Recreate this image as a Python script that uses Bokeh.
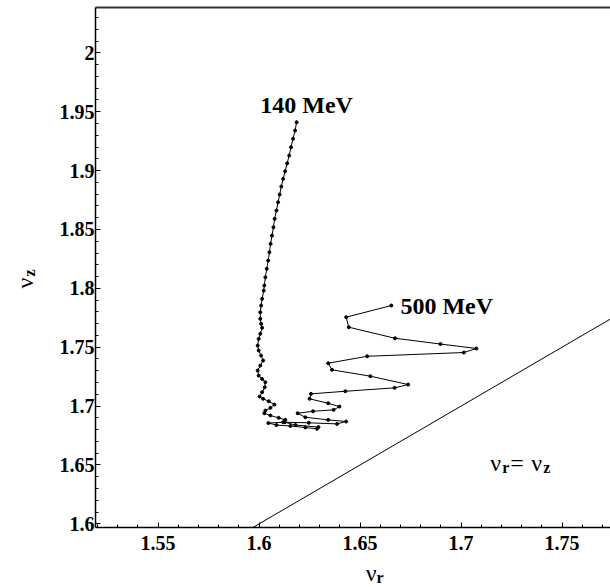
from bokeh.plotting import figure
from bokeh.layouts import row, column
from bokeh.models import (Range1d, LinearAxis, FixedTicker, Label, SingleIntervalTicker,
                          CustomJSTickFormatter)
from bokeh.embed import file_html
from bokeh.resources import INLINE
import math

# 140 MeV working-point trajectory (nu_r, nu_z)
nu_r_140 = [1.6186, 1.6178, 1.6168, 1.6158, 1.6149, 1.6139, 1.6129, 1.6119, 1.6110, 1.6102,
            1.6094, 1.6086, 1.6077, 1.6071, 1.6064, 1.6057, 1.6051, 1.6045, 1.6038, 1.6031,
            1.6026, 1.6023, 1.6015, 1.6010, 1.6006, 1.6006, 1.6010, 1.6015, 1.6006, 1.5998,
            1.5993, 1.5998, 1.6010, 1.6020, 1.6006, 1.5993, 1.5998, 1.6015, 1.6031, 1.6028,
            1.6015, 1.6003, 1.6020, 1.6048, 1.6076, 1.6056, 1.6031, 1.6026, 1.6056, 1.6097,
            1.6130, 1.6119, 1.6046, 1.6086, 1.6155, 1.6229, 1.6287]
nu_z_140 = [1.9411, 1.9340, 1.9270, 1.9198, 1.9128, 1.9062, 1.8994, 1.8930, 1.8865, 1.8797,
            1.8731, 1.8661, 1.8590, 1.8519, 1.8448, 1.8378, 1.8307, 1.8236, 1.8166, 1.8094,
            1.8024, 1.7981, 1.7911, 1.7854, 1.7797, 1.7741, 1.7699, 1.7665, 1.7614, 1.7571,
            1.7514, 1.7472, 1.7429, 1.7387, 1.7344, 1.7302, 1.7259, 1.7231, 1.7203, 1.7160,
            1.7118, 1.7081, 1.7062, 1.7041, 1.7013, 1.6985, 1.6962, 1.6939, 1.6920, 1.6900,
            1.6883, 1.6863, 1.6856, 1.6839, 1.6831, 1.6818, 1.6807]

# 500 MeV working-point trajectory
nu_r_500 = [1.6655, 1.6431, 1.6444, 1.6673, 1.6898, 1.7076, 1.7014, 1.6535, 1.6342, 1.6361,
            1.6551, 1.6738, 1.6671, 1.6427, 1.6257, 1.6250, 1.6342, 1.6398, 1.6369, 1.6267,
            1.6191, 1.6229, 1.6342, 1.6431, 1.6386, 1.6246, 1.6127, 1.6180, 1.6294]
nu_z_500 = [1.7854, 1.7755, 1.7670, 1.7576, 1.7527, 1.7489, 1.7455, 1.7423, 1.7364, 1.7308,
            1.7254, 1.7183, 1.7155, 1.7126, 1.7104, 1.7062, 1.7024, 1.6996, 1.6968, 1.6956,
            1.6939, 1.6905, 1.6883, 1.6869, 1.6849, 1.6858, 1.6863, 1.6839, 1.6822]

# resonance line nu_r = nu_z
diag = [1.5, 1.8]

serif = "Liberation Serif"
BLACK = "black"

p = figure(width=570, height=561, output_backend="svg", toolbar_location=None,
           x_range=Range1d(1.519, 1.774), y_range=Range1d(1.5969, 2.0385),
           min_border_left=55, min_border_right=0, min_border_top=7, min_border_bottom=34)
p.outline_line_color = None
p.grid.visible = False

fmt = CustomJSTickFormatter(code="return String(Math.round(tick * 100) / 100);")
for ax in (p.xaxis[0], p.yaxis[0]):
    ax.ticker = SingleIntervalTicker(interval=0.05, num_minor_ticks=5)
    ax.formatter = fmt
    ax.axis_line_width = 1.5
    ax.axis_line_color = BLACK
    ax.major_tick_in = 5
    ax.major_tick_out = 0
    ax.minor_tick_in = 3
    ax.minor_tick_out = 0
    ax.major_tick_line_color = BLACK
    ax.minor_tick_line_color = BLACK
    ax.major_label_text_font = serif
    ax.major_label_text_font_style = "bold"
    ax.major_label_text_font_size = "20px"
    ax.major_label_text_color = BLACK
p.xaxis[0].major_label_standoff = 8
p.yaxis[0].major_label_standoff = 1

top = LinearAxis(ticker=FixedTicker(ticks=[]), major_label_text_font_size="0px",
                 major_tick_line_color=None, minor_tick_line_color=None,
                 axis_line_color="#333333", axis_line_width=2, major_label_standoff=0)
p.add_layout(top, "above")

p.line(diag, diag, line_color=BLACK, line_width=1)
p.line(nu_r_140, nu_z_140, line_color=BLACK, line_width=1)
p.scatter(nu_r_140, nu_z_140, size=3, color=BLACK)
p.line(nu_r_500, nu_z_500, line_color=BLACK, line_width=1)
p.scatter(nu_r_500, nu_z_500, size=3, color=BLACK)

p.add_layout(Label(x=1.6006, y=1.9555, text="140 MeV", text_font=serif, text_font_style="bold",
                   text_font_size="24px", text_baseline="alphabetic", text_color=BLACK))
p.add_layout(Label(x=1.6700, y=1.7854, text="500 MeV", text_font=serif, text_font_style="bold",
                   text_font_size="24px", text_baseline="alphabetic", text_color=BLACK))

# nu_r = nu_z annotation
lx, ly = 1.7145, 1.6521
p.add_layout(Label(x=lx, y=ly, text="ν", text_font=serif, text_font_size="24px",
                   text_baseline="alphabetic", text_color=BLACK))
p.add_layout(Label(x=lx, y=ly, x_offset=12, y_offset=-5, text="r", text_font=serif, text_font_style="bold",
                   text_font_size="16px", text_baseline="alphabetic", text_color=BLACK))
p.add_layout(Label(x=lx, y=ly, x_offset=20, text="=", text_font=serif, text_font_size="24px",
                   text_baseline="alphabetic", text_color=BLACK))
p.add_layout(Label(x=lx, y=ly, x_offset=41, text="ν", text_font=serif, text_font_size="24px",
                   text_baseline="alphabetic", text_color=BLACK))
p.add_layout(Label(x=lx, y=ly, x_offset=53, y_offset=-5, text="z", text_font=serif, text_font_style="bold",
                   text_font_size="16px", text_baseline="alphabetic", text_color=BLACK))


def blank(w, h):
    f = figure(width=w, height=h, output_backend="svg", toolbar_location=None,
               x_range=Range1d(0, w), y_range=Range1d(0, h),
               x_axis_location=None, y_axis_location=None,
               min_border=0, min_border_left=0, min_border_right=0, min_border_top=0, min_border_bottom=0)
    f.grid.visible = False
    f.outline_line_color = None
    return f


# y axis title (left strip, 40 px wide)
ylab = blank(40, 587)
ylab.add_layout(Label(x=24, y=299, text="ν", text_font=serif, text_font_size="24px",
                      text_baseline="alphabetic", angle=math.pi / 2, text_color=BLACK))
ylab.add_layout(Label(x=29, y=311, text="z", text_font=serif, text_font_style="bold",
                      text_font_size="16px", text_baseline="alphabetic", angle=math.pi / 2, text_color=BLACK))

# x axis title (bottom strip)
xlab = blank(570, 26)
xlab.add_layout(Label(x=299, y=15, text="ν", text_font=serif, text_font_size="24px",
                      text_baseline="alphabetic", text_color=BLACK))
xlab.add_layout(Label(x=311, y=10, text="r", text_font=serif, text_font_style="bold",
                      text_font_size="16px", text_baseline="alphabetic", text_color=BLACK))

layout = row(ylab, column(p, xlab, spacing=0), spacing=0)

open("out.html", "w").write(file_html(layout, INLINE))
